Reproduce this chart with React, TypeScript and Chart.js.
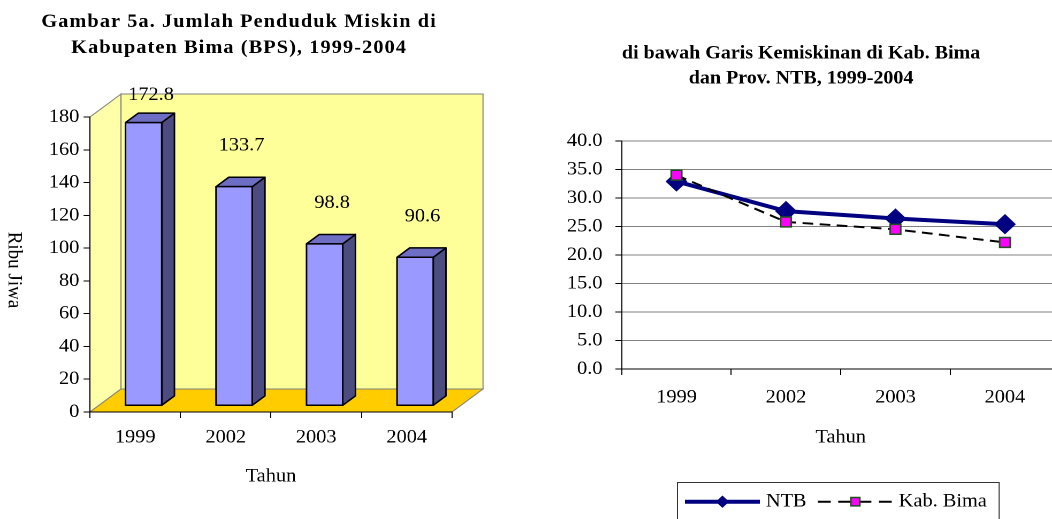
import React, { useEffect, useRef } from 'react';
import { Chart, registerables } from 'chart.js';

Chart.register(...registerables);

// ---------- data ----------
const barCategories = ['1999', '2002', '2003', '2004'];
const barValues = [172.8, 133.7, 98.8, 90.6];
const barYMin = 0;
const barYMax = 180;
const barYStep = 20;
const barTitleLines = ['Gambar 5a. Jumlah Penduduk Miskin di', 'Kabupaten Bima (BPS), 1999-2004'];
const barYTitle = 'Ribu Jiwa';
const barXTitle = 'Tahun';

const lineCategories = ['1999', '2002', '2003', '2004'];
const ntbValues = [32.9, 27.7, 26.4, 25.4];
const bimaValues = [34.0, 25.8, 24.5, 22.2];
const lineYMin = 0;
const lineYMax = 40;
const lineYStep = 5;
const lineTitleLines = ['di bawah Garis Kemiskinan di Kab. Bima', 'dan Prov. NTB, 1999-2004'];
const lineXTitle = 'Tahun';
const seriesNames = ['NTB', 'Kab. Bima'];

// ---------- layout / style ----------
const S = 1.07; // horizontal stretch of the picture
const H = 519;
const FONT = "'Liberation Serif', 'Times New Roman', serif";

const WL = 490;
const L_LEFT = 84.1, L_RIGHT = 422.4, L_TOP = 117, L_BOTTOM = 412;
const DX = 29, DY = -23;
const F0 = 0.27, F1 = 0.68;

const WR = 510;
const R_LEFT = 76.4, R_RIGHT = 485.7, R_TOP = 141, R_BOTTOM = 369;
const R_OFFSET = 540;

const wallsPlugin = {
  id: 'walls3d',
  beforeDraw(chart: any) {
    const { ctx } = chart;
    const { left, right, top, bottom } = chart.chartArea;
    ctx.save();
    ctx.lineWidth = 1;
    ctx.strokeStyle = '#808080';
    // left wall
    ctx.beginPath();
    ctx.moveTo(left, bottom);
    ctx.lineTo(left + DX, bottom + DY);
    ctx.lineTo(left + DX, top + DY);
    ctx.lineTo(left, top);
    ctx.closePath();
    ctx.fillStyle = '#FFFFAA';
    ctx.fill();
    ctx.stroke();
    // back wall
    ctx.beginPath();
    ctx.rect(left + DX, top + DY, right - left, bottom - top);
    ctx.fillStyle = '#FFFF99';
    ctx.fill();
    ctx.stroke();
    // floor
    ctx.beginPath();
    ctx.moveTo(left, bottom);
    ctx.lineTo(right, bottom);
    ctx.lineTo(right + DX, bottom + DY);
    ctx.lineTo(left + DX, bottom + DY);
    ctx.closePath();
    ctx.fillStyle = '#FFCC00';
    ctx.fill();
    ctx.stroke();
    ctx.restore();
  },
  beforeDatasetDraw(chart: any, args: any) {
    const { ctx } = chart;
    const meta = args.meta;
    const ox = DX * F0, oy = DY * F0;
    const bx = DX * (F1 - F0), by = DY * (F1 - F0);
    ctx.save();
    ctx.lineWidth = 1.5;
    ctx.strokeStyle = '#000';
    ctx.lineJoin = 'round';
    meta.data.forEach((el: any) => {
      const { x, y, base, width } = el.getProps(['x', 'y', 'base', 'width'], true);
      const xl = x - width / 2 + ox, xr = x + width / 2 + ox;
      const yt = y + oy, yb = base + oy;
      // side
      ctx.beginPath();
      ctx.moveTo(xr, yt);
      ctx.lineTo(xr + bx, yt + by);
      ctx.lineTo(xr + bx, yb + by);
      ctx.lineTo(xr, yb);
      ctx.closePath();
      ctx.fillStyle = '#4C4C80';
      ctx.fill();
      ctx.stroke();
      // top
      ctx.beginPath();
      ctx.moveTo(xl, yt);
      ctx.lineTo(xl + bx, yt + by);
      ctx.lineTo(xr + bx, yt + by);
      ctx.lineTo(xr, yt);
      ctx.closePath();
      ctx.fillStyle = '#6E6EC4';
      ctx.fill();
      ctx.stroke();
      // front
      ctx.beginPath();
      ctx.rect(xl, yt, xr - xl, yb - yt);
      ctx.fillStyle = '#9999FF';
      ctx.fill();
      ctx.stroke();
    });
    ctx.restore();
    return false;
  },
  afterDatasetsDraw(chart: any) {
    const { ctx } = chart;
    const meta = chart.getDatasetMeta(0);
    const values = chart.data.datasets[0].data;
    ctx.save();
    ctx.font = `19px ${FONT}`;
    ctx.fillStyle = '#000';
    ctx.textAlign = 'center';
    ctx.textBaseline = 'middle';
    meta.data.forEach((el: any, i: number) => {
      const cx = el.x + DX * (F0 + F1) / 2 + 1;
      let cy = el.y + DY * F0 - 41;
      cy = Math.max(cy, chart.chartArea.top + DY + 1);
      ctx.fillText(Number(values[i]).toFixed(1), cx, cy);
    });
    ctx.restore();
  },
  afterDraw(chart: any) {
    const { ctx } = chart;
    ctx.save();
    ctx.fillStyle = '#000';
    ctx.font = `bold 19px ${FONT}`;
    (ctx as any).letterSpacing = '1px';
    ctx.textAlign = 'center';
    ctx.textBaseline = 'alphabetic';
    ctx.fillText(barTitleLines[0], 223.4, 27);
    ctx.fillText(barTitleLines[1], 223.4, 53);
    (ctx as any).letterSpacing = '0px';
    ctx.font = `19px ${FONT}`;
    ctx.translate(13.1, 270);
    ctx.rotate(Math.PI / 2);
    ctx.textBaseline = 'middle';
    ctx.fillText(barYTitle, 0, 0);
    ctx.restore();
  },
};

const legendTitlePlugin = {
  id: 'lineExtras',
  afterDraw(chart: any) {
    const { ctx } = chart;
    ctx.save();
    ctx.fillStyle = '#000';
    ctx.font = `bold 18.7px ${FONT}`;
    ctx.textAlign = 'center';
    ctx.textBaseline = 'alphabetic';
    ctx.fillText(lineTitleLines[0], 244, 58.3);
    ctx.fillText(lineTitleLines[1], 244, 83.3);

    // legend box
    ctx.font = `19px ${FONT}`;
    const boxLeft = 128, boxTop = 482, padL = 7.5, lineLen = 70, gap = 5.6, itemGap = 10.6, padR = 11;
    const cy = 501.7;
    const dsets = chart.data.datasets;
    let total = padL + padR;
    dsets.forEach((ds: any, i: number) => {
      total += lineLen + gap + ctx.measureText(ds.label).width + (i < dsets.length - 1 ? itemGap : 0);
    });
    ctx.lineWidth = 1;
    ctx.strokeStyle = '#333';
    ctx.strokeRect(boxLeft + 0.5, boxTop + 0.5, total, 80);
    let x = boxLeft + padL;
    dsets.forEach((ds: any) => {
      ctx.save();
      ctx.strokeStyle = ds.borderColor;
      ctx.lineWidth = ds.borderWidth;
      ctx.setLineDash(ds.borderDash ? [12, 7] : []);
      ctx.beginPath();
      ctx.moveTo(x, cy);
      ctx.lineTo(x + lineLen, cy);
      ctx.stroke();
      ctx.restore();
      const mx = x + lineLen / 2;
      ctx.save();
      ctx.fillStyle = ds.pointBackgroundColor;
      ctx.strokeStyle = ds.pointBorderColor;
      ctx.lineWidth = ds.pointBorderWidth;
      ctx.beginPath();
      if (ds.pointStyle === 'rectRot') {
        const r = 5.5;
        ctx.moveTo(mx - r, cy);
        ctx.lineTo(mx, cy - r);
        ctx.lineTo(mx + r, cy);
        ctx.lineTo(mx, cy + r);
        ctx.closePath();
      } else {
        const s = 4.2;
        ctx.rect(mx - s, cy - s, 2 * s, 2 * s);
      }
      ctx.fill();
      ctx.stroke();
      ctx.restore();
      ctx.fillStyle = '#000';
      ctx.textAlign = 'left';
      ctx.textBaseline = 'middle';
      ctx.fillText(ds.label, x + lineLen + gap, cy);
      x += lineLen + gap + ctx.measureText(ds.label).width + itemGap;
    });
    ctx.restore();
  },
};

function leftConfig(): any {
  return {
    type: 'bar',
    data: {
      labels: barCategories,
      datasets: [
        {
          label: 'Penduduk Miskin',
          data: barValues,
          backgroundColor: '#9999FF',
          borderColor: '#000',
          borderWidth: 1.5,
          barPercentage: 0.4,
          categoryPercentage: 1.0,
        },
      ],
    },
    options: {
      responsive: false,
      animation: false,
      devicePixelRatio: 2,
      events: [],
      layout: { padding: { top: L_TOP, left: 0, right: WL - L_RIGHT, bottom: 0 } },
      plugins: { legend: { display: false }, title: { display: false }, tooltip: { enabled: false } },
      scales: {
        x: {
          offset: true,
          grid: { drawOnChartArea: false, offset: true, drawTicks: true, tickLength: 6, tickColor: '#000', tickWidth: 1 },
          border: { display: true, color: '#000', width: 1 },
          ticks: { color: '#000', font: { family: FONT, size: 19 }, padding: 8, maxRotation: 0 },
          title: { display: true, text: barXTitle, color: '#000', font: { family: FONT, size: 19 }, padding: { top: 0, bottom: 31 } },
          afterFit: (s: any) => { s.height = H - L_BOTTOM; },
        },
        y: {
          min: barYMin,
          max: barYMax,
          grid: { drawOnChartArea: false, drawTicks: true, tickLength: 6, tickColor: '#000' },
          border: { display: true, color: '#000', width: 1 },
          ticks: { stepSize: barYStep, color: '#000', font: { family: FONT, size: 19 }, padding: 4 },
          afterFit: (s: any) => { s.width = L_LEFT; },
        },
      },
    },
    plugins: [wallsPlugin],
  };
}

function rightConfig(): any {
  return {
    type: 'line',
    data: {
      labels: lineCategories,
      datasets: [
        {
          label: seriesNames[0],
          data: ntbValues,
          borderColor: '#000080',
          backgroundColor: '#000080',
          borderWidth: 4,
          pointStyle: 'rectRot',
          pointRadius: 9.5,
          pointBackgroundColor: '#000080',
          pointBorderColor: '#000080',
          pointBorderWidth: 1,
          tension: 0,
          order: 1,
        },
        {
          label: seriesNames[1],
          data: bimaValues,
          borderColor: '#000000',
          backgroundColor: '#FF00FF',
          borderWidth: 2,
          borderDash: [10, 6],
          pointStyle: 'rect',
          pointRadius: 7,
          pointBackgroundColor: '#FF00FF',
          pointBorderColor: '#1F4F1F',
          pointBorderWidth: 1.5,
          tension: 0,
          order: 0,
        },
      ],
    },
    options: {
      responsive: false,
      animation: false,
      devicePixelRatio: 2,
      events: [],
      layout: { padding: { top: R_TOP, left: 0, right: WR - R_RIGHT, bottom: 0 } },
      plugins: { legend: { display: false }, title: { display: false }, tooltip: { enabled: false } },
      scales: {
        x: {
          offset: true,
          grid: { drawOnChartArea: false, offset: true, drawTicks: true, tickLength: 6, tickColor: '#000' },
          border: { display: true, color: '#000', width: 1 },
          ticks: { color: '#000', font: { family: FONT, size: 19 }, padding: 11, maxRotation: 0 },
          title: { display: true, text: lineXTitle, color: '#000', font: { family: FONT, size: 19 }, padding: { top: 0, bottom: 70 } },
          afterFit: (s: any) => { s.height = H - R_BOTTOM; },
        },
        y: {
          min: lineYMin,
          max: lineYMax,
          grid: {
            color: (c: any) => (c.tick && c.tick.value === 0 ? '#000' : '#808080'),
            drawTicks: true,
            tickLength: 6,
            tickColor: '#000',
          },
          border: { display: true, color: '#000', width: 1 },
          ticks: {
            stepSize: lineYStep,
            color: '#000',
            font: { family: FONT, size: 19 },
            padding: 12,
            callback: (v: any) => Number(v).toFixed(1),
          },
          afterFit: (s: any) => { s.width = R_LEFT; },
        },
      },
    },
    plugins: [legendTitlePlugin],
  };
}

export default function App() {
  const leftRef = useRef<HTMLCanvasElement>(null);
  const rightRef = useRef<HTMLCanvasElement>(null);

  useEffect(() => {
    const c1 = new Chart(leftRef.current as HTMLCanvasElement, leftConfig());
    const c2 = new Chart(rightRef.current as HTMLCanvasElement, rightConfig());
    return () => {
      c1.destroy();
      c2.destroy();
    };
  }, []);

  return (
    <div style={{ position: 'fixed', left: 0, top: 0, width: 1052, height: H, overflow: 'hidden', background: '#fff' }}>
      <canvas
        ref={leftRef}
        width={WL}
        height={H}
        style={{ position: 'absolute', left: 0, top: 0, width: WL, height: H, transform: `scaleX(${S})`, transformOrigin: '0 0' }}
      />
      <canvas
        ref={rightRef}
        width={WR}
        height={H}
        style={{ position: 'absolute', left: R_OFFSET, top: 0, width: WR, height: H, transform: `scaleX(${S})`, transformOrigin: '0 0' }}
      />
    </div>
  );
}
